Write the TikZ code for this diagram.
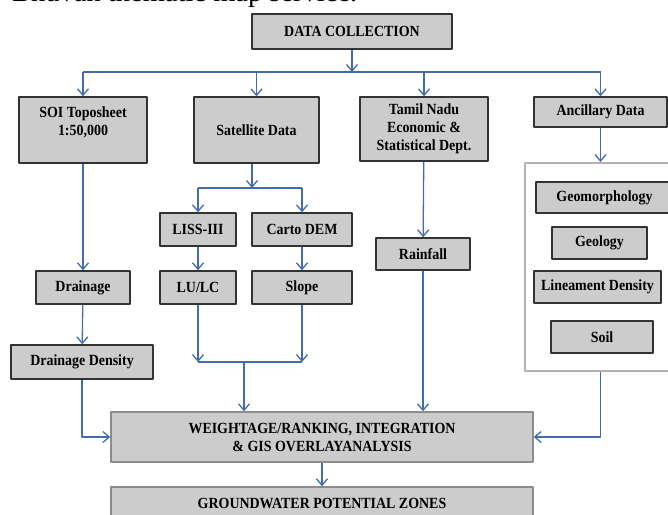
\documentclass[tikz,border=0pt]{standalone}
\usepackage{fontspec}
\setmainfont{Liberation Serif}
\newfontfamily\boxfont[FakeStretch=0.9]{Liberation Serif}
\usetikzlibrary{arrows.meta,positioning}

\definecolor{boxgray}{RGB}{204,204,204}
\definecolor{flowblue}{RGB}{68,108,172}

\begin{document}
\begin{tikzpicture}[
    x=1pt,
    y=-1pt,
    line join=round,
    box/.style={
        draw=black!80,
        line width=1.4pt,
        fill=boxgray,
        inner sep=0pt,
        align=center,
        font=\boxfont\bfseries\fontsize{15.5}{18}\selectfont
    },
    softbox/.style={
        box,
        draw=black!45
    },
    panelbox/.style={
        draw=black!30,
        line width=2pt,
        fill=white,
        inner sep=0pt
    },
    flow/.style={
        draw=flowblue,
        line width=1.3pt,
        -{Straight Barb[length=6.5pt,width=11pt]}
    },
    link/.style={
        draw=flowblue,
        line width=1.3pt
    }
]

\clip (0,0) rectangle (668,514);

% -------------------------------------------------
% Caption line cut at the top
% -------------------------------------------------

\node[anchor=base west, inner sep=0pt, font=\fontsize{28.5}{30}\selectfont]
    (caption) at (12,1.5) {Bhuvan thematic map service.};

% -------------------------------------------------
% Sources
% -------------------------------------------------

\node[box, minimum width=200pt, minimum height=35pt] (dc) at (352,31.5) {DATA COLLECTION};

\node[box, minimum width=128pt, minimum height=66pt] (soi) at (83,130)
    {SOI Toposheet\\1:50,000\\\phantom{1}};
\node[box, minimum width=125pt, minimum height=66pt] (sat) at (256.5,130) {Satellite Data};
\node[box, minimum width=128pt, minimum height=64pt] (tn) at (424,129)
    {Tamil Nadu\\Economic \&\\Statistical Dept.};
\node[box, minimum width=133pt, minimum height=30pt] (anc) at (600.5,112) {Ancillary Data};

% -------------------------------------------------
% Satellite products
% -------------------------------------------------

\node[box, minimum width=76pt, minimum height=33pt] (liss) at (198,229.5) {LISS-III};
\node[box, minimum width=100pt, minimum height=33pt] (carto) at (302,229.5) {Carto DEM};
\node[box, minimum width=76pt, minimum height=33pt] (lulc) at (198,287.5) {LU/LC};
\node[box, minimum width=100pt, minimum height=33pt] (slope) at (302,287.5) {Slope};

% -------------------------------------------------
% Toposheet and rainfall products
% -------------------------------------------------

\node[box, minimum width=94pt, minimum height=33pt] (drain) at (83,287.5) {Drainage};
\node[box, minimum width=142pt, minimum height=34pt] (dd) at (82,362) {Drainage Density};
\node[box, minimum width=94pt, minimum height=32pt] (rain) at (423,254) {Rainfall};

% -------------------------------------------------
% Ancillary themes in a grey panel
% -------------------------------------------------

\node[panelbox, minimum width=147pt, minimum height=208pt] (panel) at (598.5,267) {};

\node[box, minimum width=137pt, minimum height=31pt] (geomorph) at (604.5,197.5) {Geomorphology};
\node[box, minimum width=95pt, minimum height=32pt] (geology) at (599.5,243) {Geology};
\node[box, minimum width=127pt, minimum height=32pt] (lineament) at (597.5,287) {Lineament Density};
\node[box, minimum width=102pt, minimum height=32pt] (soil) at (602,337) {Soil};

% -------------------------------------------------
% Integration and result
% -------------------------------------------------

\node[softbox, minimum width=422pt, minimum height=50pt] (wt) at (322,437)
    {WEIGHTAGE/RANKING, INTEGRATION\\\& GIS OVERLAYANALYSIS};
\node[softbox, minimum width=422pt, minimum height=33pt] (gw) at (322,503.5)
    {GROUNDWATER POTENTIAL ZONES};

% -------------------------------------------------
% Connectors
% -------------------------------------------------

\coordinate (topbus) at (352,72);
\coordinate (satbus) at (252,188);
\coordinate (midbus) at (244,362);

\draw[flow] (dc) -- (topbus);
\draw[link] (topbus -| soi) -- (topbus -| anc);
\draw[flow] (topbus -| soi) -- (soi);
\draw[flow] (topbus -| sat) -- (sat);
\draw[flow] (topbus -| tn) -- (tn);
\draw[flow] (topbus -| anc) -- (anc);

\draw[flow] (sat.south -| satbus) -- (satbus);
\draw[link] (satbus -| liss) -- (satbus -| carto);
\draw[flow] (satbus -| liss) -- (liss);
\draw[flow] (satbus -| carto) -- (carto);
\draw[flow] (liss) -- (lulc);
\draw[flow] (carto) -- (slope);

\draw[flow] (lulc) -- (lulc |- midbus);
\draw[flow] (slope) -- (slope |- midbus);
\draw[link] (lulc |- midbus) -- (slope |- midbus);
\draw[flow] (midbus) -- (midbus |- wt.north);

\draw[flow] (soi) -- (drain);
\draw[flow] (drain) -- (dd);
\draw[flow] (dd) |- (wt);

\draw[flow] (tn) -- (rain);
\draw[flow] (rain) -- (rain |- wt.north);

\draw[flow] (anc) -- (anc |- panel.north);
\draw[flow] (panel.south -| anc) |- (wt.east);

\draw[flow] (wt) -- (gw);

\end{tikzpicture}
\end{document}
